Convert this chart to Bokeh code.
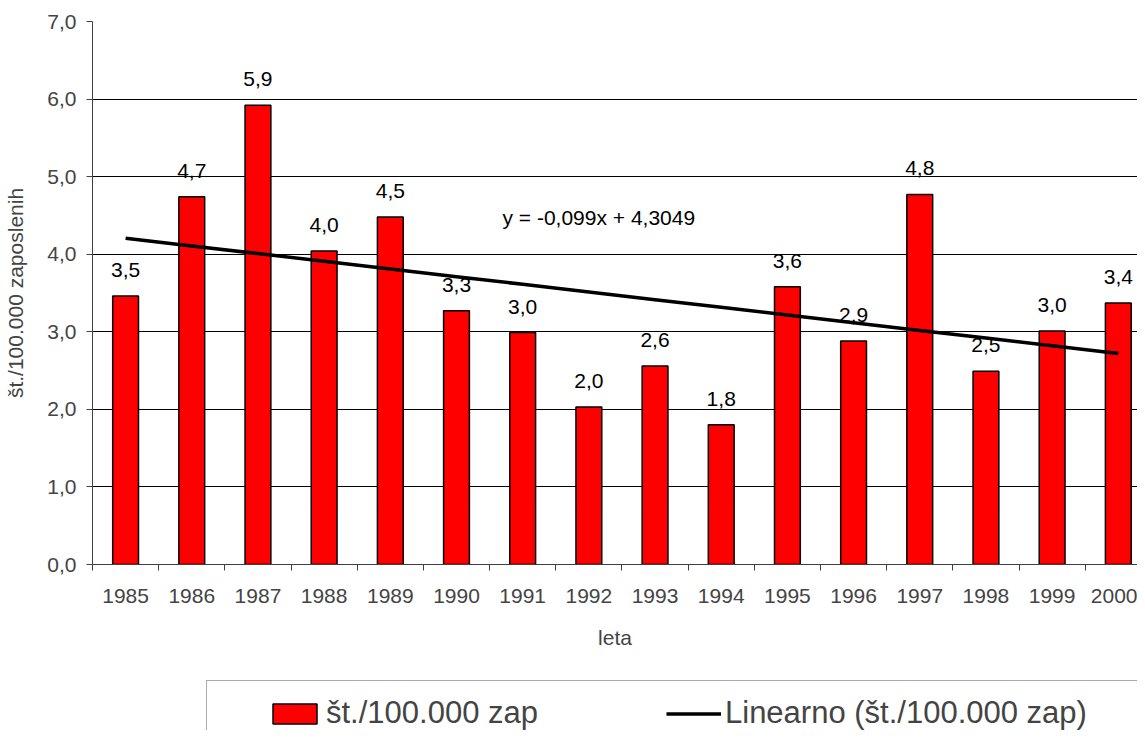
from bokeh.plotting import figure
from bokeh.models import (FixedTicker, Legend, LegendItem, Label, ColumnDataSource,
                          Range1d)
from bokeh.layouts import column
from bokeh.core.properties import value
from bokeh.embed import file_html
from bokeh.resources import INLINE

# ---- data ----
years = ["1985", "1986", "1987", "1988", "1989", "1990", "1991", "1992",
         "1993", "1994", "1995", "1996", "1997", "1998", "1999", "2000"]
rates = [3.46, 4.74, 5.92, 4.04, 4.48, 3.27, 2.99, 2.03,
         2.56, 1.80, 3.58, 2.88, 4.77, 2.49, 3.01, 3.37]
trend_slope = -0.099
trend_intercept = 4.3049
y_ticks = [0, 1, 2, 3, 4, 5, 6, 7]
series_name = "št./100.000 zap"
trend_name = "Linearno (št./100.000 zap)"
equation_text = "y = -0,099x + 4,3049"
y_title = "št./100.000 zaposlenih"
x_title = "leta"

FONT = "Liberation Sans"
BAR_STYLE = dict(fill_color="#FF0000", line_color="black", line_width=1.5)
LINE_STYLE = dict(line_color="black", line_width=3.5)

xs = list(range(len(years)))
labels = [f"{v:.1f}".replace(".", ",") for v in rates]
trend = [trend_intercept + trend_slope * (i + 1) for i in xs]

src = ColumnDataSource(dict(x=xs, rate=rates, label=labels))
tsrc = ColumnDataSource(dict(x=xs, y=trend))

xr = Range1d(-0.5, 15.29)
p = figure(width=1137, height=678, output_backend="svg", toolbar_location=None,
           x_range=xr, y_range=Range1d(0, 7),
           min_border_left=92, min_border_right=0, min_border_top=21,
           min_border_bottom=114)
p.outline_line_color = None
p.background_fill_color = "white"

bars = p.vbar(x="x", top="rate", width=0.39, source=src, **BAR_STYLE)
line = p.line(x="x", y="y", source=tsrc, **LINE_STYLE)
p.text(x="x", y="rate", text="label", source=src, text_align="center",
       text_baseline="alphabetic", y_offset=-26, text_font=value(FONT),
       text_font_size="21px", text_color="black")

p.add_layout(Label(x=7.15, y=4.47, text=equation_text, text_align="center",
                   text_baseline="middle", text_font=FONT, text_font_size="21px",
                   text_color="black"))

# y axis
yax = p.yaxis[0]
yax.ticker = FixedTicker(ticks=y_ticks)
yax.major_label_overrides = {t: f"{t},0" for t in y_ticks}
yax.major_tick_in = 0
yax.major_tick_out = 6
yax.minor_tick_out = 0
yax.axis_line_color = "#404040"
yax.major_tick_line_color = "#404040"
yax.major_label_text_font = FONT
yax.major_label_text_font_size = "21px"
yax.major_label_standoff = 10
yax.axis_label = y_title
yax.axis_label_text_font = FONT
yax.axis_label_text_font_size = "21px"
yax.axis_label_text_font_style = "normal"
yax.axis_label_standoff = 17

# x axis
xax = p.xaxis[0]
xax.ticker = FixedTicker(ticks=xs, minor_ticks=[i - 0.5 for i in range(len(xs) + 1)])
xax.major_label_overrides = {i: years[i] for i in xs}
xax.major_tick_in = 0
xax.major_tick_out = 0
xax.minor_tick_in = 0
xax.minor_tick_out = 6
xax.axis_line_color = "#404040"
xax.minor_tick_line_color = "#404040"
xax.major_label_text_font = FONT
xax.major_label_text_font_size = "21px"
xax.major_label_standoff = 18
xax.axis_label = x_title
xax.axis_label_text_font = FONT
xax.axis_label_text_font_size = "21px"
xax.axis_label_text_font_style = "normal"
xax.axis_label_standoff = 20

p.xgrid.visible = False
p.ygrid.ticker = FixedTicker(ticks=y_ticks)
p.ygrid.grid_line_color = "black"
p.ygrid.grid_line_width = 1

# ---- legend strip (separate figure under the chart) ----
lg = figure(width=1137, height=52, output_backend="svg", toolbar_location=None,
            x_range=xr, y_range=Range1d(100, 101),
            x_axis_location=None, y_axis_location=None,
            min_border_left=0, min_border_right=0, min_border_top=0,
            min_border_bottom=0)
lg.outline_line_color = None
lg.xgrid.visible = False
lg.ygrid.visible = False
# legend proxies: muted in the strip (drawn with invisible muted style), legend uses normal style
lbars = lg.vbar(x="x", top="rate", width=0.39, source=src, muted_alpha=0, **BAR_STYLE)
lline = lg.line(x="x", y="y", source=tsrc, muted_alpha=0, **LINE_STYLE)
lbars.muted = True
lline.muted = True
ghost = lg.line(x="x", y="y", source=tsrc, line_alpha=0)

# frame of the legend (extends beyond the right edge, as in the original)
legend_frame = Legend(items=[LegendItem(label="", renderers=[ghost])],
                      orientation="horizontal", location=(114, -16),
                      glyph_width=1000, glyph_height=36, label_standoff=0,
                      padding=14, margin=0,
                      label_text_font=FONT, label_text_font_size="31px",
                      border_line_color="#555555", border_line_width=1.5,
                      background_fill_color="white", background_fill_alpha=1.0)
lg.add_layout(legend_frame, "center")

legend = Legend(items=[LegendItem(label=series_name, renderers=[lbars]),
                       LegendItem(label=trend_name, renderers=[lline])],
                orientation="horizontal", location=(175, -1),
                glyph_width=55, glyph_height=25, label_standoff=4, spacing=128,
                padding=14, margin=0,
                label_text_font=FONT, label_text_font_size="31px",
                border_line_color=None, background_fill_alpha=0.0)
lg.add_layout(legend, "center")

layout = column(p, lg, spacing=0)
open("out.html", "w").write(file_html(layout, INLINE))
